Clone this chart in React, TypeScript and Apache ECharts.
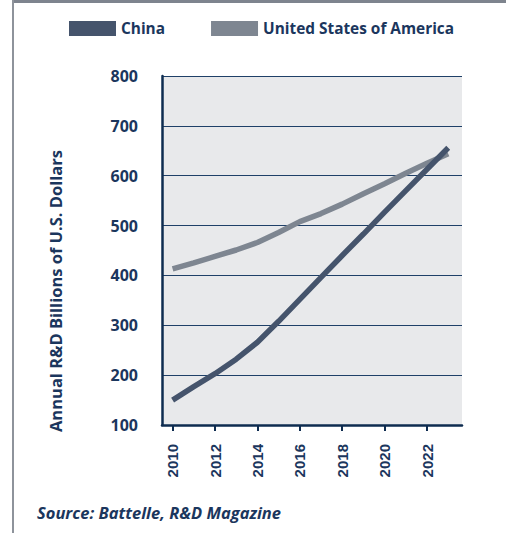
import React, { useEffect, useRef } from "react";
import * as echarts from "echarts";

const years = [2010, 2011, 2012, 2013, 2014, 2015, 2016, 2017, 2018, 2019, 2020, 2021, 2022, 2023];
const china = [150, 177, 203, 232, 266, 308, 352, 396, 440, 483, 527, 570, 613, 656];
const usa = [413, 425, 438, 451, 466, 486, 508, 524, 543, 564, 584, 605, 625, 644];
const xTicks = [2010, 2012, 2014, 2016, 2018, 2020, 2022];
const seriesNames = ["China", "United States of America"];
const yAxisTitle = "Annual R&D Billions of U.S. Dollars";
const sourceText = "Source: Battelle, R&D Magazine";

const NAVY = "#1B365D";
const FONT = "'Open Sans', Lato, sans-serif";

export default function App() {
  const ref = useRef<HTMLDivElement>(null);
  useEffect(() => {
    if (!ref.current) return;
    const chart = echarts.init(ref.current, undefined, { renderer: "svg" });
    chart.setOption({
      animation: false,
      backgroundColor: "#ffffff",
      textStyle: { fontFamily: FONT },
      legend: {
        data: seriesNames,
        left: 69,
        top: 21,
        padding: 0,
        icon: "rect",
        itemWidth: 47,
        itemHeight: 15,
        itemGap: 46,
        textStyle: { fontSize: 15.4, fontWeight: "bold", color: NAVY, fontFamily: FONT },
      },
      grid: {
        left: 162,
        right: 44,
        top: 76,
        bottom: 108,
        show: true,
        backgroundColor: "#E8E9EB",
        borderWidth: 0,
      },
      xAxis: {
        type: "value",
        min: 2009.5,
        max: 2023.65,
        axisLine: { show: true, onZero: false, lineStyle: { color: "#0E2C50", width: 2.5 } },
        axisTick: {
          show: true,
          customValues: xTicks,
          length: 6,
          lineStyle: { color: "#0E2C50", width: 2 },
        },
        axisLabel: {
          customValues: xTicks,
          rotate: 90,
          margin: 19,
          fontSize: 15,
          fontWeight: "bold",
          color: NAVY,
          fontFamily: "'Liberation Sans', Arial, sans-serif",
          formatter: (v: number) => String(v),
        },
        splitLine: { show: false },
      },
      yAxis: {
        type: "value",
        min: 100,
        max: 800,
        interval: 100,
        axisLine: { show: true, lineStyle: { color: "#0E2C50", width: 2.5 } },
        axisTick: { show: false },
        axisLabel: {
          margin: 24,
          fontSize: 16,
          fontWeight: "bold",
          color: NAVY,
          fontFamily: FONT,
        },
        splitLine: { show: true, lineStyle: { color: "#1F4068", width: 1 } },
      },
      series: [
        {
          name: seriesNames[0],
          type: "line",
          data: years.map((y, i) => [y, china[i]]),
          showSymbol: false,
          symbol: "none",
          color: "#45546C",
          lineStyle: { width: 5.5, color: "#45546C" },
          z: 3,
        },
        {
          name: seriesNames[1],
          type: "line",
          data: years.map((y, i) => [y, usa[i]]),
          showSymbol: false,
          symbol: "none",
          color: "#7E8691",
          lineStyle: { width: 5.5, color: "#7E8691" },
          z: 2,
        },
      ],
      graphic: [
        { type: "rect", shape: { x: 12, y: 0, width: 494, height: 3 }, style: { fill: "#7E848E" }, silent: true },
        { type: "rect", shape: { x: 12, y: 0, width: 2, height: 533 }, style: { fill: "#8E939B" }, silent: true },
        {
          type: "text",
          x: 55,
          y: 291,
          rotation: Math.PI / 2,
          style: {
            text: yAxisTitle,
            font: `bold 16.5px ${FONT}`,
            fill: NAVY,
            textAlign: "center",
            textVerticalAlign: "middle",
          },
        },
        {
          type: "text",
          x: 37,
          y: 512,
          style: {
            text: sourceText,
            font: `italic bold 16.5px ${FONT}`,
            fill: NAVY,
            textAlign: "left",
            textVerticalAlign: "middle",
          },
        },
      ],
    });
    return () => chart.dispose();
  }, []);
  return <div ref={ref} style={{ position: "fixed", left: 0, top: 0, width: 506, height: 533 }} />;
}
